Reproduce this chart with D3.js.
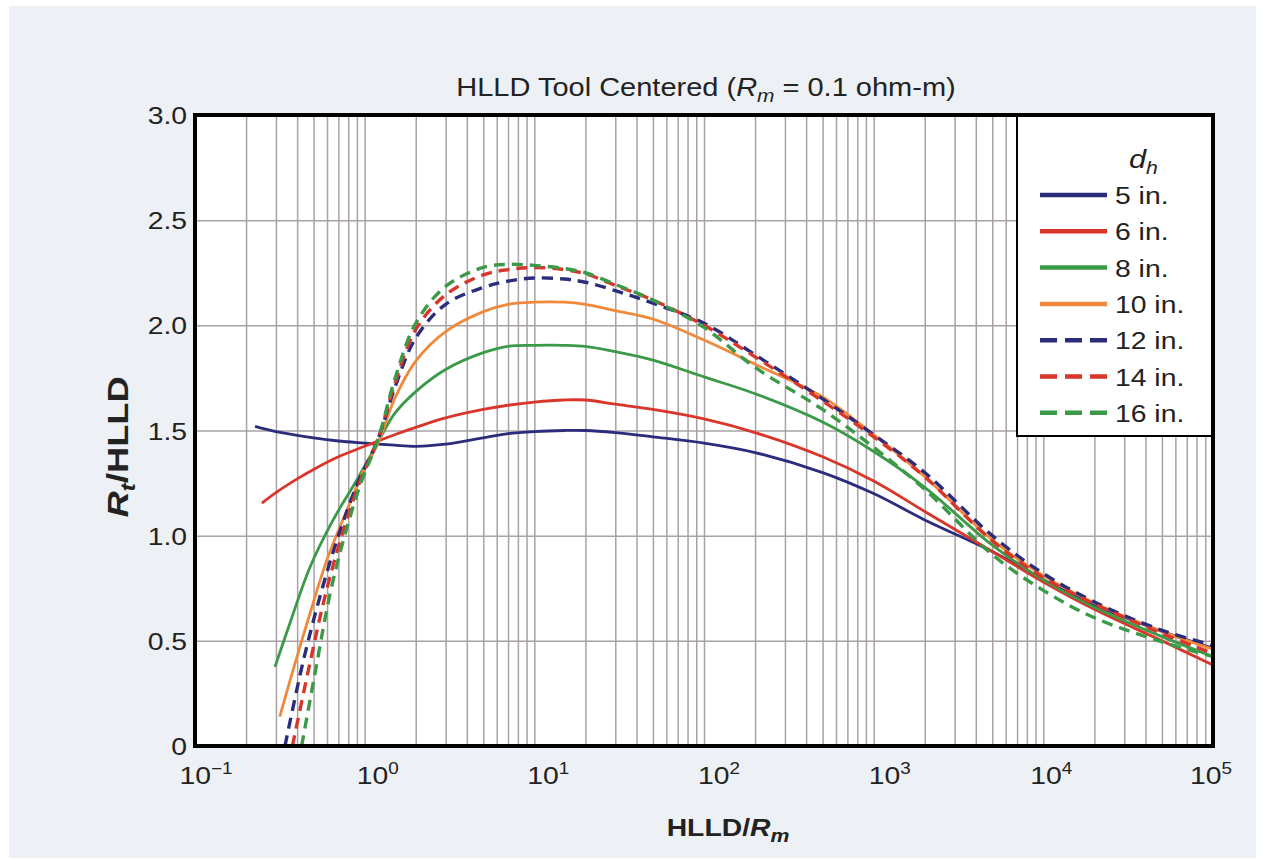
<!DOCTYPE html>
<html><head><meta charset="utf-8">
<script src="https://cdn.jsdelivr.net/npm/d3@7"></script>
<style>
html,body{margin:0;padding:0;background:#fff;}
svg{display:block;font-family:"Liberation Sans",Arial,Helvetica,sans-serif;}
</style>
</head><body>
<svg id="c" width="1263" height="861"></svg>
<script>
// ---------------- data ----------------
const seriesNames = ["5 in.", "6 in.", "8 in.", "10 in.", "12 in.", "14 in.", "16 in."];
const xExponents = [-1, 0, 1, 2, 3, 4, 5];
const yTicks = [0, 0.5, 1.0, 1.5, 2.0, 2.5, 3.0];
const yTickLabels = ["0", "0.5", "1.0", "1.5", "2.0", "2.5", "3.0"];

// shared x positions (HLLD/Rm) for the right-hand part of every curve
const xRight = [1.2, 1.5, 2, 3, 5, 7, 10, 15, 20, 30, 50, 100, 200, 500, 1000, 2000, 5000, 1e4, 2e4, 5e4, 1e5];

// left-hand (low HLLD/Rm) parts, each curve starts at its own x
const xLeft5  = [0.226, 0.3, 0.5, 0.7, 1.0];
const yLeft5  = [1.52, 1.495, 1.465, 1.45, 1.44];
const xLeft6  = [0.248, 0.3, 0.4, 0.5, 0.7, 1.0];
const yLeft6  = [1.155, 1.205, 1.27, 1.315, 1.375, 1.425];
const xLeft8  = [0.296, 0.363, 0.476, 0.652, 0.899];
const yLeft8  = [0.376, 0.585, 0.85, 1.075, 1.265];
const xLeft10 = [0.316, 0.378, 0.476, 0.599, 0.785, 1.0];
const yLeft10 = [0.14, 0.36, 0.63, 0.885, 1.12, 1.32];
const xLeft12 = [0.339, 0.432, 0.545, 0.687, 0.899];
const yLeft12 = [0, 0.395, 0.71, 0.98, 1.24];
const xLeft14 = [0.375, 0.476, 0.583, 0.72, 0.92];
const yLeft14 = [0, 0.395, 0.71, 0.98, 1.24];
const xLeft16 = [0.425, 0.523, 0.62, 0.75, 0.94];
const yLeft16 = [0, 0.395, 0.71, 0.98, 1.24];

// right-hand parts on xRight
const yRight5  = [1.435, 1.43, 1.425, 1.435, 1.465, 1.485, 1.495, 1.50, 1.50, 1.49, 1.47, 1.44, 1.395, 1.30, 1.20, 1.075, 0.925, 0.79, 0.67, 0.545, 0.465];
const yRight6  = [1.45, 1.48, 1.515, 1.56, 1.60, 1.62, 1.635, 1.645, 1.645, 1.625, 1.60, 1.555, 1.49, 1.375, 1.26, 1.115, 0.925, 0.78, 0.65, 0.50, 0.385];
const yRight8  = [1.445, 1.58, 1.685, 1.79, 1.87, 1.90, 1.905, 1.905, 1.90, 1.875, 1.835, 1.755, 1.675, 1.54, 1.40, 1.23, 0.955, 0.79, 0.66, 0.52, 0.425];
const yRight10 = [1.44, 1.65, 1.83, 1.97, 2.065, 2.10, 2.11, 2.11, 2.10, 2.07, 2.03, 1.93, 1.815, 1.66, 1.48, 1.28, 0.98, 0.81, 0.68, 0.545, 0.46];
const yRight12 = [1.46, 1.70, 1.94, 2.10, 2.18, 2.21, 2.225, 2.22, 2.205, 2.165, 2.105, 2.01, 1.86, 1.65, 1.48, 1.30, 1.00, 0.82, 0.685, 0.55, 0.48];
const yRight14 = [1.46, 1.72, 1.98, 2.145, 2.24, 2.265, 2.275, 2.265, 2.245, 2.19, 2.12, 2.00, 1.85, 1.64, 1.47, 1.28, 0.975, 0.80, 0.675, 0.535, 0.44];
const yRight16 = [1.46, 1.74, 2.01, 2.185, 2.275, 2.29, 2.285, 2.27, 2.25, 2.195, 2.12, 1.99, 1.80, 1.60, 1.42, 1.22, 0.91, 0.74, 0.61, 0.495, 0.425];

// ---------------- styles ----------------
const colors = ["#2b2d7c", "#d8362b", "#3a9a48", "#f0893a", "#2b2d7c", "#d8362b", "#3a9a48"];
const dashed = [false, false, false, false, true, true, true];
const xLabelOffsets = [11, 13, 14, 15, 16, 8, -2];
const SX = 1.18;          // horizontal stretch of the lettering
const TXT = "#222";

const leftX = [xLeft5, xLeft6, xLeft8, xLeft10, xLeft12, xLeft14, xLeft16];
const leftY = [yLeft5, yLeft6, yLeft8, yLeft10, yLeft12, yLeft14, yLeft16];
const rightY = [yRight5, yRight6, yRight8, yRight10, yRight12, yRight14, yRight16];

const series = seriesNames.map((name, i) => ({
  name,
  color: colors[i],
  dashed: dashed[i],
  points: leftX[i].map((xv, j) => [xv, leftY[i][j]])
           .concat(xRight.map((xv, j) => [xv, rightY[i][j]]))
}));

// ---------------- drawing ----------------
const svg = d3.select("#c");
const L = 195, R = 1213, T = 115, B = 746;
const FONT = 24;

function stext(parent, x, y, anchor, size, sx) {
  return parent.append("g").attr("transform", `translate(${x},${y}) scale(${sx},1)`)
    .append("text").attr("text-anchor", anchor).attr("font-size", size).attr("fill", TXT);
}

svg.append("rect").attr("x", 9).attr("y", 6).attr("width", 1247).attr("height", 852).attr("fill", "#edf1f5");

const x = d3.scaleLog().domain([0.1, 1e5]).range([L, R]);
const y = d3.scaleLinear().domain([0, 3]).range([B, T]);

svg.append("rect").attr("x", L).attr("y", T).attr("width", R - L).attr("height", B - T).attr("fill", "#ffffff");

// vertical grid
const gridX = [];
for (let k = -1; k <= 4; k++) for (let m = 1; m <= 9; m++) {
  const v = m * Math.pow(10, k);
  if (v > 0.1) gridX.push(v);
}
svg.append("g").attr("transform", `translate(0,${B})`)
  .call(d3.axisBottom(x).tickValues(gridX).tickSize(-(B - T)).tickFormat(""))
  .call(g => g.select(".domain").remove())
  .call(g => g.selectAll(".tick line").attr("stroke", "#a8a2a4").attr("stroke-width", 1.5));

// horizontal grid
svg.append("g").attr("transform", `translate(${L},0)`)
  .call(d3.axisLeft(y).tickValues(yTicks.filter(v => v > 0 && v < 3)).tickSize(-(R - L)).tickFormat(""))
  .call(g => g.select(".domain").remove())
  .call(g => g.selectAll(".tick line").attr("stroke", "#a8a2a4").attr("stroke-width", 1.5));

// curves
svg.append("clipPath").attr("id", "clip").append("rect")
  .attr("x", L).attr("y", T - 2).attr("width", R - L).attr("height", B - T + 2);
const line = d3.line().x(d => x(d[0])).y(d => y(d[1])).curve(d3.curveCatmullRom.alpha(0.5));
svg.append("g").attr("clip-path", "url(#clip)")
  .selectAll("path").data(series).join("path")
  .attr("d", d => line(d.points))
  .attr("fill", "none")
  .attr("stroke", d => d.color)
  .attr("stroke-width", d => d.dashed ? 3.4 : 2.8)
  .attr("stroke-dasharray", d => d.dashed ? "11,7" : null)
  .attr("stroke-linecap", "butt");

// legend
const lg = svg.append("g");
lg.append("rect").attr("x", 1017).attr("y", T).attr("width", R - 1017).attr("height", 321)
  .attr("fill", "#ffffff").attr("stroke", "#000").attr("stroke-width", 2);
const lt = stext(lg, 1129, 168, "start", 26, SX);
lt.append("tspan").attr("font-style", "italic").text("d");
lt.append("tspan").attr("font-style", "italic").attr("font-size", 18).attr("dy", 6).text("h");
const rows = lg.selectAll("g.row").data(series).join("g").attr("class", "row")
  .attr("transform", (d, i) => `translate(0,${195 + i * 36.3})`);
rows.append("line").attr("x1", 1040).attr("x2", 1107)
  .attr("stroke", d => d.color).attr("stroke-width", 4.5)
  .attr("stroke-dasharray", d => d.dashed ? "17,8" : null);
rows.each(function (d) {
  stext(d3.select(this), 1115, 9, "start", FONT, SX).text(d.name);
});

// frame
svg.append("rect").attr("x", L).attr("y", T).attr("width", R - L).attr("height", B - T)
  .attr("fill", "none").attr("stroke", "#000").attr("stroke-width", 4);

// y tick labels
svg.append("g").attr("transform", `translate(${L},0)`)
  .call(d3.axisLeft(y).tickValues(yTicks).tickSize(0).tickPadding(8).tickFormat((d, i) => yTickLabels[i]))
  .call(g => g.select(".domain").remove())
  .call(g => g.selectAll("text").attr("font-size", FONT).attr("fill", TXT)
     .attr("font-family", "'Liberation Sans',Arial,sans-serif").attr("dy", "0.36em")
     .attr("x", -8 / SX).attr("transform", `scale(${SX},1)`));

// x tick labels (10^k)
const xtg = svg.append("g");
xExponents.forEach((e, i) => {
  const t = stext(xtg, x(Math.pow(10, e)) + xLabelOffsets[i], 784, "middle", FONT, SX);
  t.append("tspan").text("10");
  t.append("tspan").attr("font-size", 16).attr("dy", -10).text(e < 0 ? "\u2212" + Math.abs(e) : String(e));
});

// title
const tt = stext(svg, 706, 96, "middle", 25, 1.16);
tt.append("tspan").text("HLLD Tool Centered (");
tt.append("tspan").attr("font-style", "italic").text("R");
tt.append("tspan").attr("font-style", "italic").attr("font-size", 18).attr("dy", 6).text("m");
tt.append("tspan").attr("dy", -6).text(" = 0.1 ohm-m)");

// x axis title
const xa = stext(svg, 728, 836, "middle", 24, SX).attr("font-weight", "bold");
xa.append("tspan").text("HLLD/");
xa.append("tspan").attr("font-style", "italic").text("R");
xa.append("tspan").attr("font-style", "italic").attr("font-size", 18).attr("dy", 6).text("m");

// y axis title
const ya = svg.append("g").attr("transform", "translate(128,447) rotate(-90) scale(1.25,1)")
  .append("text").attr("text-anchor", "middle").attr("font-size", 29).attr("font-weight", "bold").attr("fill", TXT);
ya.append("tspan").attr("font-style", "italic").text("R");
ya.append("tspan").attr("font-style", "italic").attr("font-size", 20).attr("dy", 7).text("t");
ya.append("tspan").attr("dy", -7).text("/HLLD");
</script>
</body></html>
